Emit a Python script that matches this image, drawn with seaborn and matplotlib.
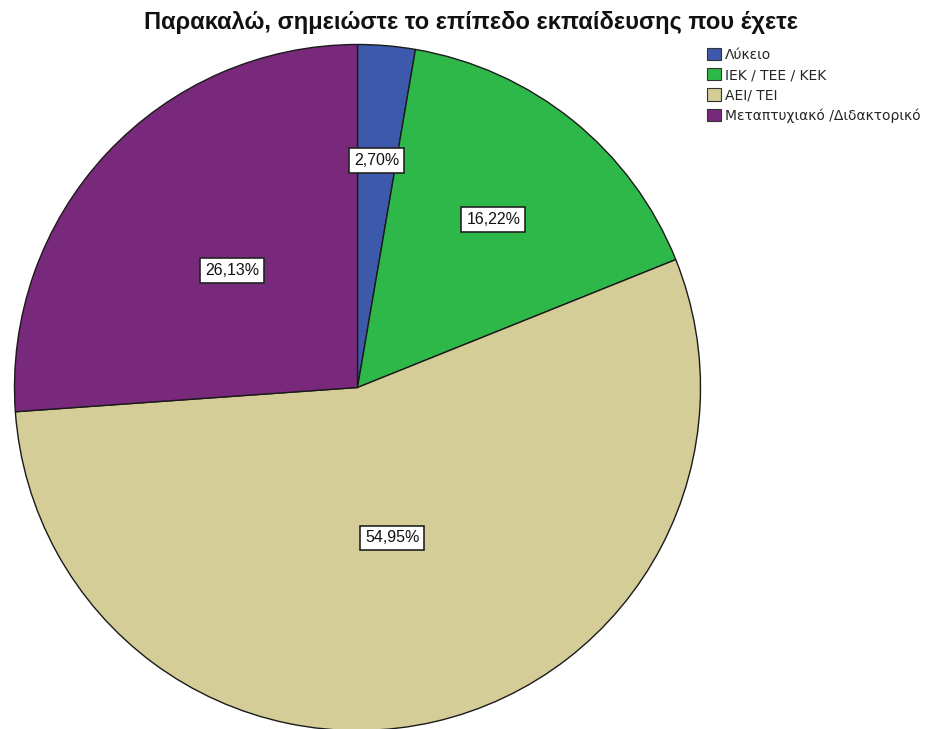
import numpy as np
import matplotlib
matplotlib.use("Agg")
import matplotlib.pyplot as plt
import seaborn as sns
from matplotlib.patches import Patch

sns.set_theme(style="white")
plt.rcParams["font.family"] = ["DejaVu Sans"]

title = "Παρακαλώ, σημειώστε το επίπεδο εκπαίδευσης που έχετε"
categories = ["Λύκειο", "ΙΕΚ / ΤΕΕ / ΚΕΚ", "ΑΕΙ/ ΤΕΙ", "Μεταπτυχιακό /Διδακτορικό"]
counts = [3, 18, 61, 29]
percent_labels = ["2,70%", "16,22%", "54,95%", "26,13%"]
colors = ["#3D59AB", "#2FB84A", "#D4CD98", "#79297B"]
label_radius = [0.665, 0.63, 0.45, 0.50]

fig = plt.figure(figsize=(9.26, 7.29), dpi=100)
ax = fig.add_axes([14.5 / 926, (729 - 730.5) / 729, 686 / 926, 686 / 729])

wedges, _ = ax.pie(
    counts, colors=colors, startangle=90, counterclock=False, radius=1.0,
    wedgeprops=dict(edgecolor="#1a1a1a", linewidth=1.0),
)
ax.set_xlim(-1, 1)
ax.set_ylim(-1, 1)
ax.set_aspect("equal")
ax.axis("off")

for w, lab, r in zip(wedges, percent_labels, label_radius):
    mid = np.deg2rad((w.theta1 + w.theta2) / 2)
    ax.text(r * np.cos(mid), r * np.sin(mid), lab, ha="center", va="center",
            fontsize=11.5, color="#111111",
            family=["Liberation Sans", "DejaVu Sans"],
            bbox=dict(boxstyle="square,pad=0.3", facecolor="white",
                      edgecolor="#222222", linewidth=1.2))

fig.text(471 / 926, 1 - 23 / 729, title, ha="center", va="center",
         fontsize=17, fontweight="bold", color="#111111",
         family=["Liberation Sans", "DejaVu Sans"])

handles = [Patch(facecolor=c, edgecolor="#333333", linewidth=0.8) for c in colors]
fig.legend(handles, categories, loc="upper left",
           bbox_to_anchor=(704 / 926, 1 - 45 / 729), frameon=False,
           fontsize=10, handlelength=1.0, handleheight=1.0, handletextpad=0.3,
           labelspacing=0.45, borderaxespad=0.0, borderpad=0.2)

fig.savefig("out.png", dpi=100)
